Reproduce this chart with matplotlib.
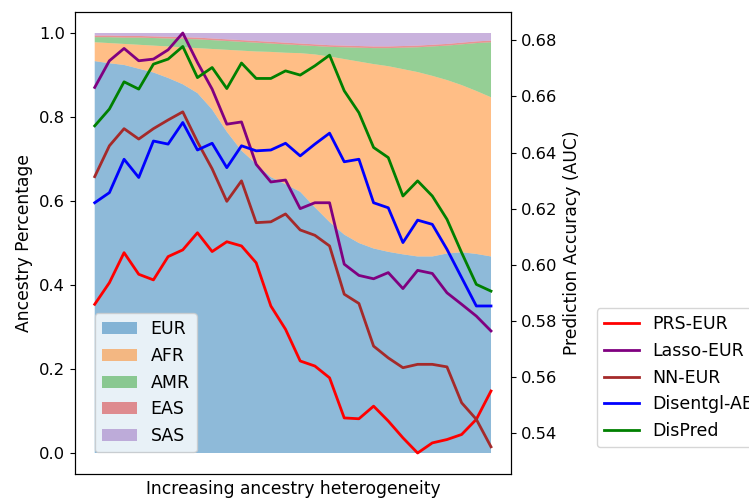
import numpy as np
import matplotlib.pyplot as plt

# ancestry composition along the ordered samples (left axis)
eur = [0.933, 0.928, 0.924, 0.915, 0.906, 0.893, 0.878, 0.857, 0.818, 0.765,
       0.720, 0.688, 0.657, 0.640, 0.622, 0.585, 0.550, 0.520, 0.500, 0.487,
       0.479, 0.473, 0.468, 0.468, 0.475, 0.478, 0.474, 0.468]
afr = [0.045, 0.048, 0.050, 0.057, 0.064, 0.075, 0.088, 0.107, 0.144, 0.195,
       0.238, 0.268, 0.298, 0.313, 0.330, 0.364, 0.394, 0.418, 0.432, 0.439,
       0.442, 0.441, 0.439, 0.430, 0.413, 0.398, 0.388, 0.379]
amr = [0.012, 0.014, 0.015, 0.017, 0.018, 0.019, 0.020, 0.021, 0.021, 0.021,
       0.021, 0.021, 0.020, 0.020, 0.019, 0.020, 0.023, 0.028, 0.033, 0.038,
       0.043, 0.051, 0.059, 0.070, 0.082, 0.097, 0.114, 0.131]
eas = [0.004] * 28
sas = [0.006, 0.006, 0.007, 0.007, 0.008, 0.009, 0.010, 0.011, 0.013, 0.015,
       0.017, 0.019, 0.021, 0.023, 0.025, 0.027, 0.029, 0.030, 0.031, 0.032,
       0.032, 0.031, 0.030, 0.028, 0.026, 0.023, 0.020, 0.018]
ancestry_labels = ["EUR", "AFR", "AMR", "EAS", "SAS"]

# prediction accuracy (AUC) of each method (right axis)
prs_eur = [0.5859, 0.5936, 0.6043, 0.5966, 0.5946, 0.6029, 0.6053, 0.6114, 0.6047, 0.6082,
           0.6067, 0.6007, 0.5853, 0.5770, 0.5657, 0.5639, 0.5597, 0.5454, 0.5451, 0.5496,
           0.5443, 0.5383, 0.5329, 0.5365, 0.5377, 0.5395, 0.5449, 0.5550]
lasso_eur = [0.6632, 0.6727, 0.6771, 0.6727, 0.6733, 0.6766, 0.6826, 0.6721, 0.6626, 0.6501,
             0.6509, 0.6358, 0.6295, 0.6302, 0.6200, 0.6221, 0.6221, 0.6002, 0.5962, 0.5950,
             0.5972, 0.5915, 0.5980, 0.5969, 0.5900, 0.5859, 0.5817, 0.5764]
nn_eur = [0.6314, 0.6424, 0.6485, 0.6448, 0.6485, 0.6516, 0.6545, 0.6438, 0.6342, 0.6226,
          0.6299, 0.6150, 0.6153, 0.6181, 0.6124, 0.6105, 0.6067, 0.5895, 0.5862, 0.5710,
          0.5668, 0.5633, 0.5645, 0.5645, 0.5636, 0.5508, 0.5449, 0.5351]
disentgl_ae = [0.6221, 0.6257, 0.6376, 0.6311, 0.6441, 0.6430, 0.6507, 0.6409, 0.6433, 0.6346,
               0.6424, 0.6406, 0.6409, 0.6433, 0.6388, 0.6430, 0.6469, 0.6367, 0.6376, 0.6221,
               0.6203, 0.6079, 0.6159, 0.6144, 0.6055, 0.5954, 0.5853, 0.5853]
dispred = [0.6495, 0.6555, 0.6652, 0.6626, 0.6715, 0.6733, 0.6778, 0.6667, 0.6703, 0.6628,
           0.6719, 0.6664, 0.6664, 0.6691, 0.6676, 0.6709, 0.6747, 0.6620, 0.6542, 0.6418,
           0.6382, 0.6245, 0.6299, 0.6245, 0.6162, 0.6043, 0.5930, 0.5906]
methods = ["PRS-EUR", "Lasso-EUR", "NN-EUR", "Disentgl-AE", "DisPred"]
method_colors = ["red", "purple", "brown", "blue", "green"]

x = np.arange(len(eur))
fs_label = 12.3
fs_tick = 11.8
fs_leg = 12.5

fig = plt.figure(figsize=(7.49, 5), dpi=100)
ax = fig.add_axes([0.100, 0.052, 0.582, 0.924])

ax.stackplot(x, eur, afr, amr, eas, sas, labels=ancestry_labels,
             colors=["tab:blue", "tab:orange", "tab:green", "tab:red", "tab:purple"],
             alpha=0.5)
ax.set_ylim(-0.05, 1.05)
ax.set_xticks([])
ax.set_ylabel("Ancestry Percentage", fontsize=fs_label)
ax.set_xlabel("Increasing ancestry heterogeneity", fontsize=fs_label)
ax.tick_params(labelsize=fs_tick)
ax.legend(loc="lower left", bbox_to_anchor=(95 / 749, 1 - 452 / 500),
          bbox_transform=fig.transFigure, borderaxespad=0, fontsize=fs_leg)

ax2 = ax.twinx()
for vals, name, c in zip([prs_eur, lasso_eur, nn_eur, disentgl_ae, dispred], methods, method_colors):
    ax2.plot(x, vals, color=c, linewidth=2, label=name)
ax2.set_ylabel("Prediction Accuracy (AUC)", fontsize=fs_label)
ax2.tick_params(labelsize=fs_tick)
ax2.legend(loc="lower left", bbox_to_anchor=(597 / 749, 1 - 447 / 500),
           bbox_transform=fig.transFigure, borderaxespad=0, fontsize=fs_leg)

fig.savefig("out.png", dpi=100)
